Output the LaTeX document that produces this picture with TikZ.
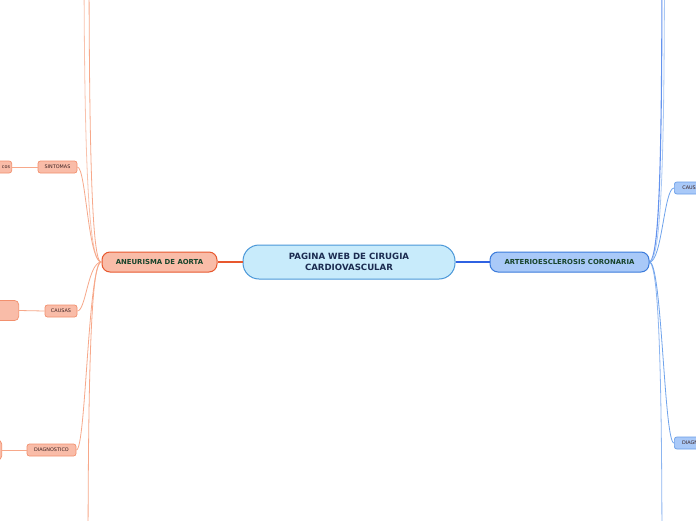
\documentclass[tikz,border=0pt]{standalone}
\usepackage{fontspec}
\setmainfont{DejaVu Sans}
\definecolor{cfill}{HTML}{C8EBFB}
\definecolor{cdraw}{HTML}{4A97D8}
\definecolor{ctext}{HTML}{1B2B50}
\definecolor{aofill}{HTML}{F9BCA8}
\definecolor{aodraw}{HTML}{E8582E}
\definecolor{mtext}{HTML}{17442B}
\definecolor{arfill}{HTML}{A9C9F8}
\definecolor{ardraw}{HTML}{3B7BDB}
\definecolor{subdraw}{HTML}{F2906E}
\definecolor{stext}{HTML}{3A2020}
\definecolor{lconn}{HTML}{F7A88A}
\definecolor{rconn}{HTML}{6FA3EC}
\definecolor{rsubdraw}{HTML}{6A9EE8}
\tikzset{
  centerbox/.style={draw=cdraw, fill=cfill, line width=1pt, rounded corners=16pt, minimum width=212pt, minimum height=34pt, align=center, text=ctext, font=\bfseries\fontsize{8.6}{10.5}\selectfont, inner sep=0pt},
  mainbox/.style={line width=1pt, rounded corners=8pt, minimum height=20pt, text=mtext, font=\bfseries\fontsize{6.9}{8}\selectfont, inner sep=0pt},
  subbox/.style={draw=subdraw, fill=aofill, line width=0.7pt, rounded corners=2.5pt, minimum height=12pt, text=stext, font=\fontsize{4.9}{6}\selectfont, inner sep=0pt},
  rsubbox/.style={draw=rsubdraw, fill=arfill, line width=0.7pt, rounded corners=2.5pt, minimum height=12pt, text=stext, font=\fontsize{4.9}{6}\selectfont, inner sep=0pt},
  lline/.style={draw=lconn, line width=0.8pt},
  rline/.style={draw=rconn, line width=0.8pt}
}
\begin{document}
\begin{tikzpicture}[x=1pt,y=-1pt]
\useasboundingbox (0,0) rectangle (696,520);
\clip (0,0) rectangle (696,520);
\fill[white] (0,0) rectangle (696,520);

% off-screen ends
\coordinate (ltop1) at (84,-60);
\coordinate (ltop2) at (89,-60);
\coordinate (lbot) at (88,580);
\coordinate (rtop1) at (662,-60);
\coordinate (rtop2) at (664.5,-60);
\coordinate (rbot) at (662,580);

% left branch connectors
\coordinate (lhub) at (101,262);
\draw[lline, draw=lconn!70] (lhub) .. controls (88,262) and (84,150) .. (ltop1);
\draw[lline] (lhub) .. controls (92,262) and (89,150) .. (ltop2);
\draw[lline] (lhub) .. controls (90,262) and (88,400) .. (lbot);

% right branch connectors
\coordinate (rhub) at (649,262);
\draw[rline, line width=1.1pt, draw=rconn!90!blue] (rhub) .. controls (660,262) and (662,150) .. (rtop1);
\draw[rline, draw=rconn!60] (rhub) .. controls (662,262) and (664.5,150) .. (rtop2);
\draw[rline, draw=rconn!80] (rhub) .. controls (660,262) and (662,400) .. (rbot);

% main nodes
\node[centerbox] (center) at (349,262) {PAGINA WEB DE CIRUGIA\\CARDIOVASCULAR};
\node[mainbox, draw=aodraw, fill=aofill, minimum width=115pt] (ao) at (159.5,262) {ANEURISMA DE AORTA};
\node[mainbox, draw=ardraw, fill=arfill, minimum width=159pt] (ar) at (569.5,262) {ARTERIOESCLEROSIS CORONARIA};

\draw[draw=aodraw, line width=1.4pt] (center.west) -- (ao.east);
\draw[draw=ardraw!80!blue, line width=1.4pt] (center.east) -- (ar.west);

% left sub nodes
\node[subbox, minimum width=39pt] (sint) at (57.5,167) {SINTOMAS};
\node[subbox, minimum width=32pt] (caus) at (61,311) {CAUSAS};
\node[subbox, minimum width=49pt] (diag) at (51.5,450) {DIAGNOSTICO};

\node[subbox, anchor=east, minimum width=60pt, text width=57pt, align=right] (leafa) at (12,167) {cos};
\node[subbox, anchor=east, minimum width=60pt, minimum height=20pt, rounded corners=4pt] (leafb) at (19,310.5) {};
\node[subbox, anchor=east, minimum width=60pt, minimum height=20pt, rounded corners=4pt] (leafc) at (2,450) {};

\draw[lline] (ao.west) .. controls (88,262) and (86,167) .. (sint.east);
\draw[lline] (ao.west) .. controls (88,262) and (86,311) .. (caus.east);
\draw[lline] (ao.west) .. controls (88,262) and (86,450) .. (diag.east);
\draw[lline] (sint.west) -- (leafa.east);
\draw[lline] (caus.west) -- (leafb.east);
\draw[lline] (diag.west) -- (leafc.east);

% right sub nodes
\node[rsubbox, anchor=west, minimum width=36pt] (rcaus) at (674,188) {CAUSAS};
\node[rsubbox, anchor=west, minimum width=50pt] (rdiag) at (674,443) {DIAGNOSTICO};
\draw[rline] (ar.east) .. controls (662,262) and (664,188) .. (rcaus.west);
\draw[rline] (ar.east) .. controls (662,262) and (664,443) .. (rdiag.west);
\end{tikzpicture}
\end{document}
